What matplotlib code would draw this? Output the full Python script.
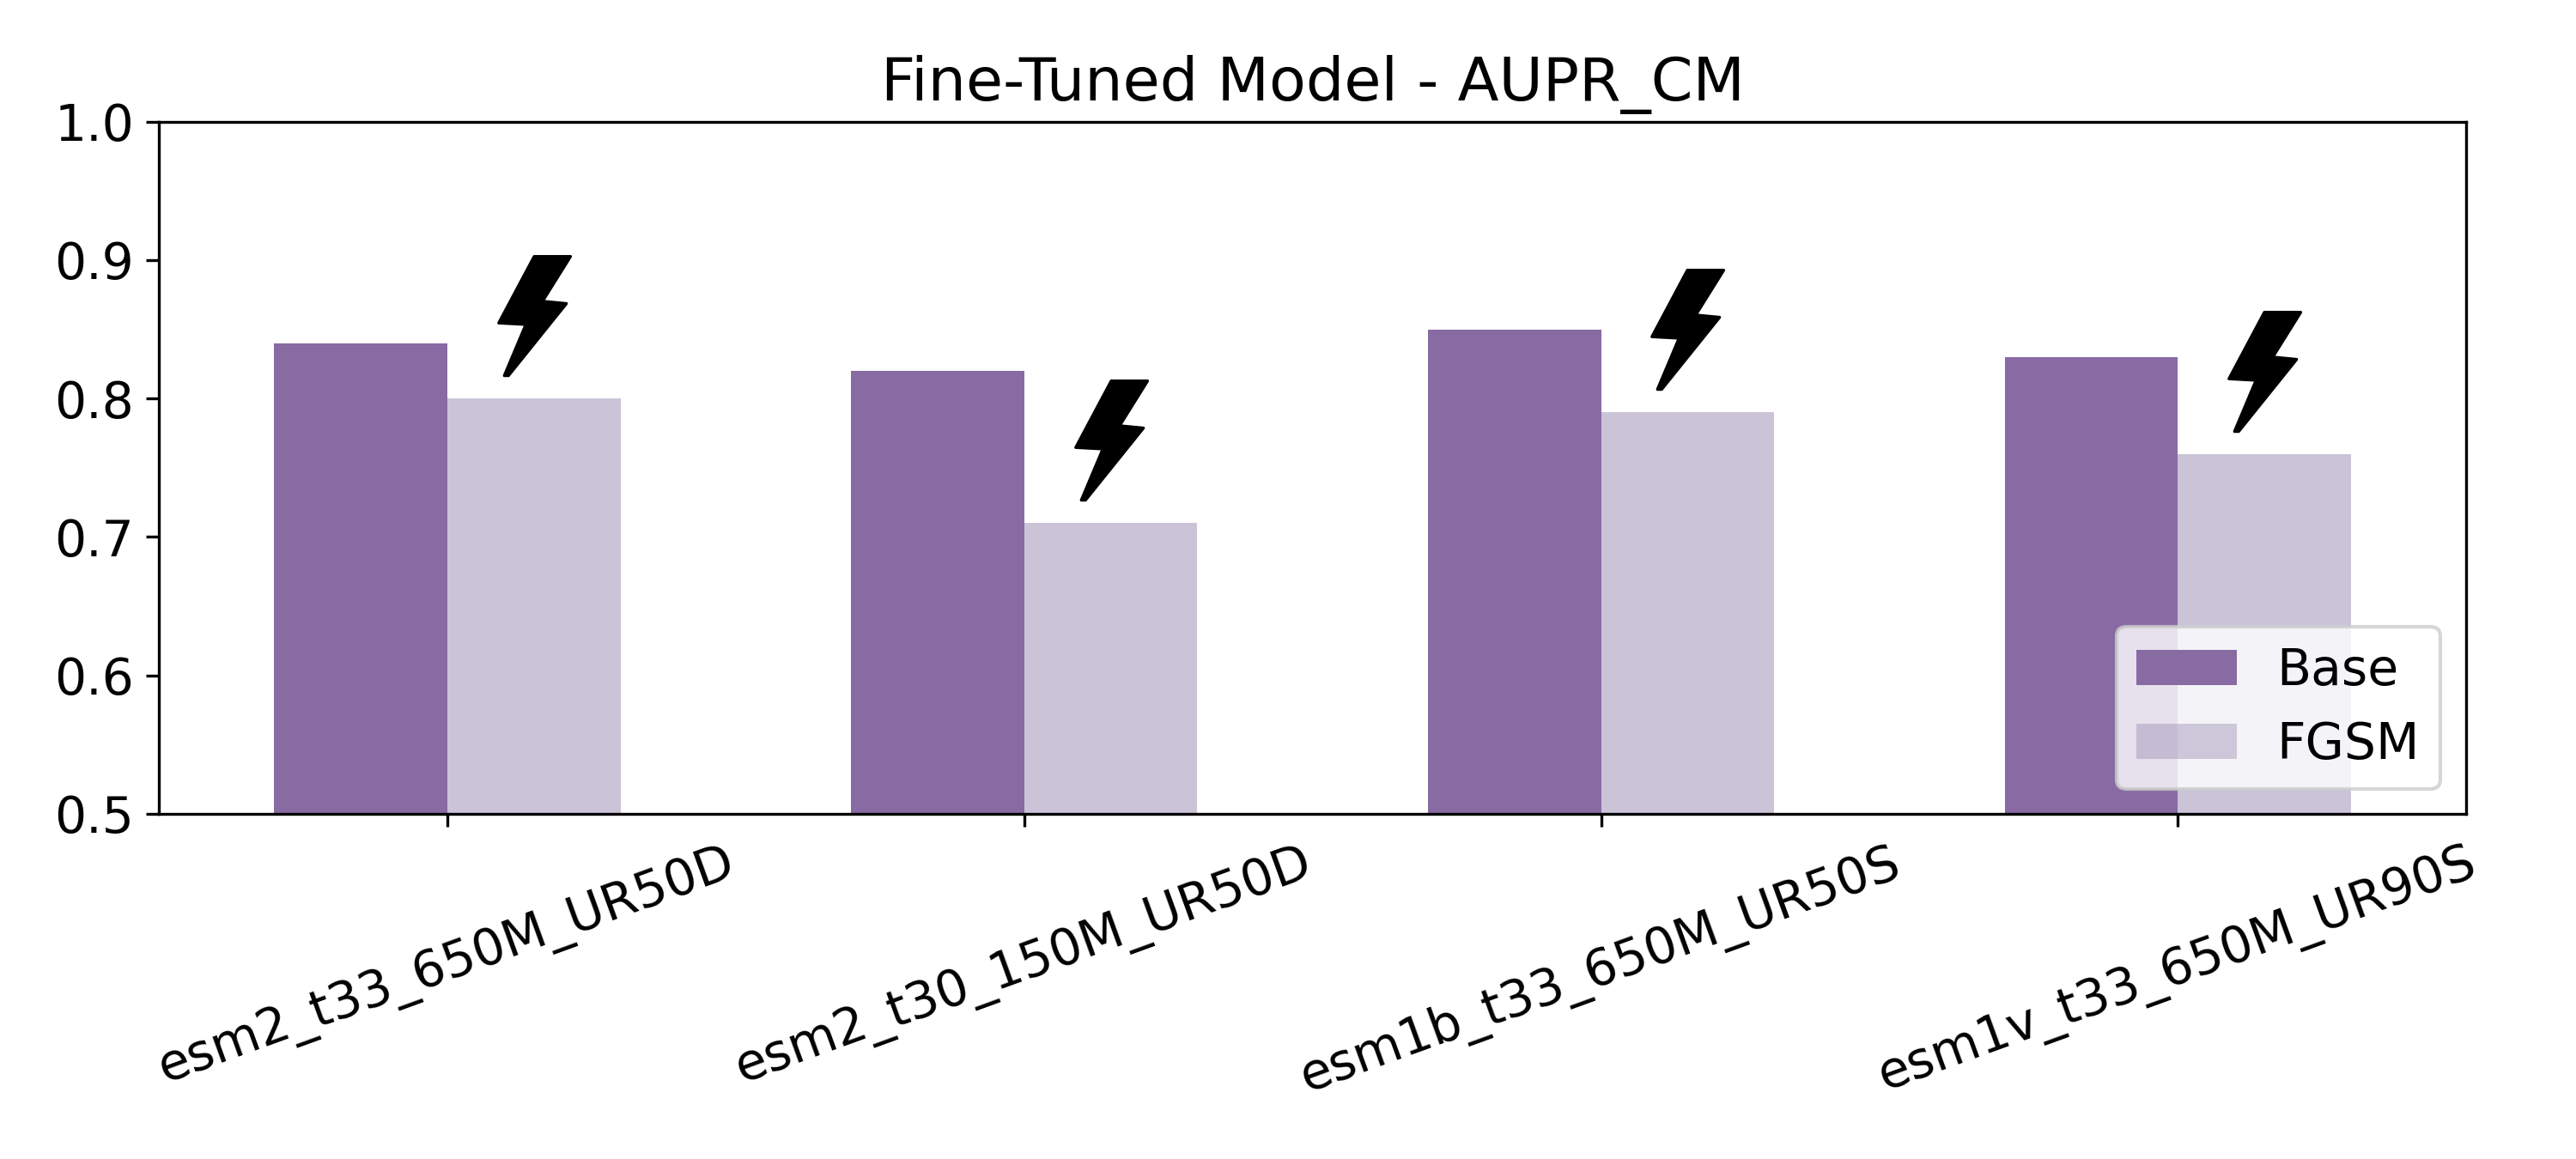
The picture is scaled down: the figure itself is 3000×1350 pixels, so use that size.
import numpy as np
import matplotlib
matplotlib.use('Agg')
import matplotlib.pyplot as plt
from matplotlib.markers import MarkerStyle
from matplotlib.path import Path

models = ['esm2_t33_650M_UR50D', 'esm2_t30_150M_UR50D', 'esm1b_t33_650M_UR50S', 'esm1v_t33_650M_UR90S']
base = [0.84, 0.82, 0.85, 0.83]
fgsm = [0.80, 0.71, 0.79, 0.76]

# lightning bolt outline for the attack marker, centred on the origin
BOLT_X = [-0.003, 0.298, 0.067, 0.264, -0.215, -0.250, -0.072, -0.296]
BOLT_Y = [0.495, 0.495, 0.125, 0.106, -0.490, -0.490, -0.067, -0.055]


def bolt_marker():
    verts = np.column_stack([BOLT_X + BOLT_X[:1], BOLT_Y + BOLT_Y[:1]])
    path = Path(verts, closed=True)
    return MarkerStyle(path, joinstyle='round')


def main():
    fig = plt.figure(figsize=(10, 4.5), dpi=300)
    ax = fig.add_axes([0.0617, 0.298, 0.8957, 0.597])

    x = np.arange(len(models))
    width = 0.3
    ax.bar(x - width / 2, base, width, color='#886BA3', label='Base')
    ax.bar(x + width / 2, fgsm, width, color='#998BB3', alpha=0.5, label='FGSM')

    # bolt sits just above each FGSM bar
    ax.plot(x + width / 2, np.array(fgsm) + 0.0596, linestyle='none', marker=bolt_marker(),
            markersize=33.5, color='black', markeredgewidth=0.8, zorder=3)

    ax.set_xlim(-0.5, 3.5)
    ax.set_ylim(0.5, 1.0)
    ax.set_xticks(x)
    ax.set_xticklabels(models, rotation=20, fontsize=14)
    ax.tick_params(axis='y', labelsize=14)
    ax.set_title('Fine-Tuned Model - AUPR_CM', fontsize=16.8)
    leg = ax.legend(loc='lower right', bbox_to_anchor=(0.9886, 0.035), borderaxespad=0, fontsize=14)
    leg.legend_handles[1].set_alpha(0.42)

    fig.savefig('out.png')


if __name__ == '__main__':
    main()
